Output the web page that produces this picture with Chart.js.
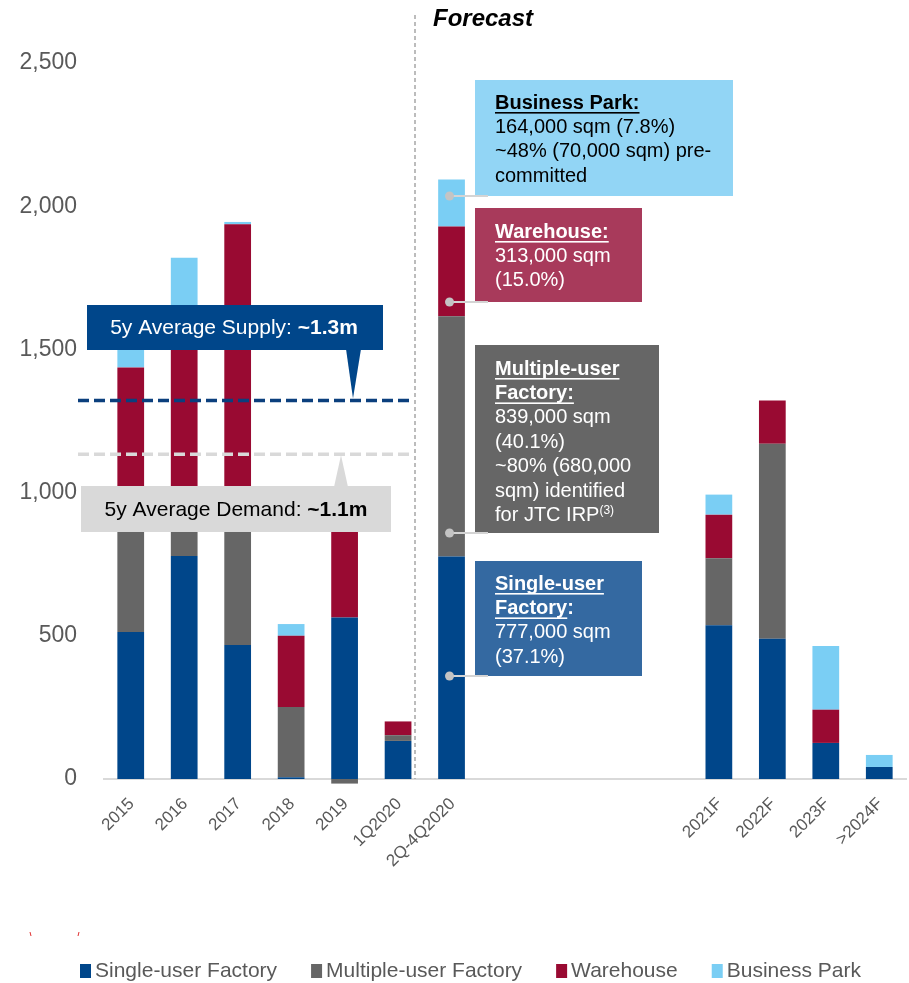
<!DOCTYPE html>
<html>
<head>
<meta charset="utf-8">
<script src="https://cdn.jsdelivr.net/npm/chart.js@4.4.0/dist/chart.umd.min.js"></script>
<style>
  html, body { margin: 0; padding: 0; background: #fff; }
  #wrap { width: 909px; height: 983px; }
</style>
</head>
<body>
<div id="wrap"><canvas id="supply-chart"></canvas></div>
<script>
// Industrial space supply, thousand sqm
const categories = ['2015', '2016', '2017', '2018', '2019', '1Q2020', '2Q-4Q2020', '', '', '', '', '2021F', '2022F', '2023F', '>2024F'];
const singleUser   = [513, 779, 468,   6, 564, 133, 777, null, null, null, null, 537, 490, 126, 42];
const multiUser    = [437, 171, 532, 245, -16,  20, 839, null, null, null, null, 234, 681,   0,  0];
const warehouse    = [487, 650, 937, 249, 410,  48, 313, null, null, null, null, 152, 151, 116,  0];
const businessPark = [123, 220,   8,  41,   0,   0, 164, null, null, null, null,  70,   0, 222, 42];
const yTicks = [0, 500, 1000, 1500, 2000, 2500];
const avgSupply = 1322;
const avgDemand = 1134;

const FONT = '"Liberation Sans", Arial, sans-serif';
const LINE_H = 24.4;

function drawRich(ctx, lines, x, y0, color) {
    ctx.textAlign = 'left';
    ctx.textBaseline = 'middle';
    lines.forEach((ln, i) => {
        const yy = y0 + i * LINE_H;
        let cx = x;
        ln.forEach(part => {
            const size = part.sup ? 12 : 20;
            ctx.font = (part.b ? 'bold ' : '') + size + 'px ' + FONT;
            ctx.fillStyle = color;
            const dy = part.sup ? -5 : 0;
            ctx.fillText(part.t, cx, yy + dy);
            const w = ctx.measureText(part.t).width;
            if (part.u) ctx.fillRect(cx, yy + 9, w, 1.6);
            cx += w;
        });
    });
}

const callouts = {
    id: 'callouts',
    afterDatasetsDraw(chart) {
        const { ctx, scales: { x, y }, chartArea } = chart;
        ctx.save();

        // average supply / demand lines
        const lineL = 78, lineR = 412;
        [[avgDemand, '#D9D9D9'], [avgSupply, '#0B3F7D']].forEach(([v, c]) => {
            const py = y.getPixelForValue(v);
            ctx.strokeStyle = c;
            ctx.lineWidth = 3.5;
            ctx.setLineDash([11, 5]);
            ctx.beginPath();
            ctx.moveTo(lineL, py);
            ctx.lineTo(lineR, py);
            ctx.stroke();
        });

        // forecast divider
        ctx.strokeStyle = '#A6A6A6';
        ctx.lineWidth = 1.5;
        ctx.setLineDash([4, 3]);
        ctx.beginPath();
        ctx.moveTo(415, 15);
        ctx.lineTo(415, chartArea.bottom);
        ctx.stroke();
        ctx.setLineDash([]);

        ctx.font = 'bold italic 24px ' + FONT;
        ctx.fillStyle = '#000';
        ctx.textAlign = 'left';
        ctx.textBaseline = 'middle';
        ctx.fillText('Forecast', 433, 19);

        // supply callout
        const sy = y.getPixelForValue(avgSupply);
        ctx.fillStyle = '#00468A';
        ctx.fillRect(87, 305, 296, 45);
        ctx.beginPath();
        ctx.moveTo(346, 349);
        ctx.lineTo(361, 349);
        ctx.lineTo(353, sy - 2);
        ctx.closePath();
        ctx.fill();

        // demand callout
        const dy = y.getPixelForValue(avgDemand);
        ctx.fillStyle = '#D9D9D9';
        ctx.fillRect(81, 486, 310, 46);
        ctx.beginPath();
        ctx.moveTo(334, 487);
        ctx.lineTo(348, 487);
        ctx.lineTo(341, dy + 1);
        ctx.closePath();
        ctx.fill();

        const centred = (parts, cx, cy, color) => {
            let w = 0;
            parts.forEach(p => {
                ctx.font = (p.b ? 'bold ' : '') + '21px ' + FONT;
                w += ctx.measureText(p.t).width;
            });
            let px = cx - w / 2;
            ctx.fillStyle = color;
            ctx.textAlign = 'left';
            ctx.textBaseline = 'middle';
            parts.forEach(p => {
                ctx.font = (p.b ? 'bold ' : '') + '21px ' + FONT;
                ctx.fillText(p.t, px, cy);
                px += ctx.measureText(p.t).width;
            });
        };
        centred([{ t: '5y Average Supply: ' }, { t: '~1.3m', b: 1 }], 234, 328, '#fff');
        centred([{ t: '5y Average Demand: ' }, { t: '~1.1m', b: 1 }], 236, 510, '#000');

        // segment callouts for 2Q-4Q2020
        const boxes = [
            { r: [475, 80, 258, 116], fill: '#92D5F5', color: '#000', top: 103,
              lines: [[{ t: 'Business Park:', b: 1, u: 1 }], [{ t: '164,000 sqm (7.8%)' }],
                      [{ t: '~48% (70,000 sqm) pre-' }], [{ t: 'committed' }]] },
            { r: [475, 208, 167, 94], fill: '#A83A5B', color: '#fff', top: 232,
              lines: [[{ t: 'Warehouse:', b: 1, u: 1 }], [{ t: '313,000 sqm' }], [{ t: '(15.0%)' }]] },
            { r: [475, 345, 184, 188], fill: '#666666', color: '#fff', top: 369,
              lines: [[{ t: 'Multiple-user', b: 1, u: 1 }], [{ t: 'Factory:', b: 1, u: 1 }],
                      [{ t: '839,000 sqm' }], [{ t: '(40.1%)' }], [{ t: '~80% (680,000' }],
                      [{ t: 'sqm) identified' }], [{ t: 'for JTC IRP' }, { t: '(3)', sup: 1 }]] },
            { r: [475, 561, 167, 115], fill: '#3469A1', color: '#fff', top: 584,
              lines: [[{ t: 'Single-user', b: 1, u: 1 }], [{ t: 'Factory', b: 1, u: 1 }, { t: ':', b: 1 }],
                      [{ t: '777,000 sqm' }], [{ t: '(37.1%)' }]] }
        ];
        boxes.forEach(bx => {
            ctx.fillStyle = bx.fill;
            ctx.fillRect(...bx.r);
            drawRich(ctx, bx.lines, 495, bx.top, bx.color);
        });

        const barX = x.getPixelForValue(6) - 2;
        boxes.forEach(bx => {
            const py = bx.r[1] + bx.r[3];
            ctx.strokeStyle = '#D4D4D4';
            ctx.lineWidth = 2;
            ctx.beginPath();
            ctx.moveTo(barX, py);
            ctx.lineTo(488, py);
            ctx.stroke();
            ctx.fillStyle = '#C4C4C4';
            ctx.beginPath();
            ctx.arc(barX, py, 4.5, 0, Math.PI * 2);
            ctx.fill();
        });

        // legend
        let lx = 80;
        const ly = 971;
        chart.data.datasets.forEach(ds => {
            ctx.fillStyle = ds.backgroundColor;
            ctx.fillRect(lx, ly - 7, 11, 14);
            ctx.font = '21px ' + FONT;
            ctx.fillStyle = '#595959';
            ctx.textAlign = 'left';
            ctx.textBaseline = 'middle';
            ctx.fillText(ds.label, lx + 15, ly);
            lx += 15 + ctx.measureText(ds.label).width + 34;
        });

        // clipped footnote marks
        ctx.strokeStyle = '#E03030';
        ctx.lineWidth = 1;
        ctx.beginPath();
        ctx.moveTo(30, 932); ctx.lineTo(31, 936);
        ctx.moveTo(79, 932); ctx.lineTo(78, 936);
        ctx.stroke();

        ctx.restore();
    }
};

const ctx = document.getElementById('supply-chart').getContext('2d');
new Chart(ctx, {
    type: 'bar',
    data: {
        labels: categories,
        datasets: [
            { label: 'Single-user Factory', data: singleUser, backgroundColor: '#00468A' },
            { label: 'Multiple-user Factory', data: multiUser, backgroundColor: '#666666' },
            { label: 'Warehouse', data: warehouse, backgroundColor: '#990A32' },
            { label: 'Business Park', data: businessPark, backgroundColor: '#7ACEF4' }
        ]
    },
    options: {
        responsive: true,
        maintainAspectRatio: false,
        animation: false,
        layout: { padding: { top: 63, right: 3, left: 0, bottom: 0 } },
        datasets: { bar: { barPercentage: 0.5, categoryPercentage: 1.0, clip: false, borderWidth: 0 } },
        plugins: { legend: { display: false }, tooltip: { enabled: false } },
        scales: {
            x: {
                stacked: true,
                grid: { display: false, drawTicks: false },
                border: { display: true, color: '#D9D9D9', width: 2 },
                ticks: {
                    autoSkip: false, minRotation: 45, maxRotation: 45,
                    color: '#595959', font: { family: FONT, size: 17 },
                    padding: 15, labelOffset: 1
                },
                afterFit: s => { s.height = 204; }
            },
            y: {
                stacked: true,
                min: 0,
                max: 2500,
                grid: { display: false, drawTicks: false },
                border: { display: false },
                ticks: {
                    padding: 27, color: '#595959', font: { family: FONT, size: 23 },
                    callback: v => v.toLocaleString('en-US')
                },
                afterBuildTicks: s => { s.ticks = yTicks.map(v => ({ value: v })); },
                afterFit: s => { s.width = 104; }
            }
        }
    },
    plugins: [callouts]
});
</script>
</body>
</html>
